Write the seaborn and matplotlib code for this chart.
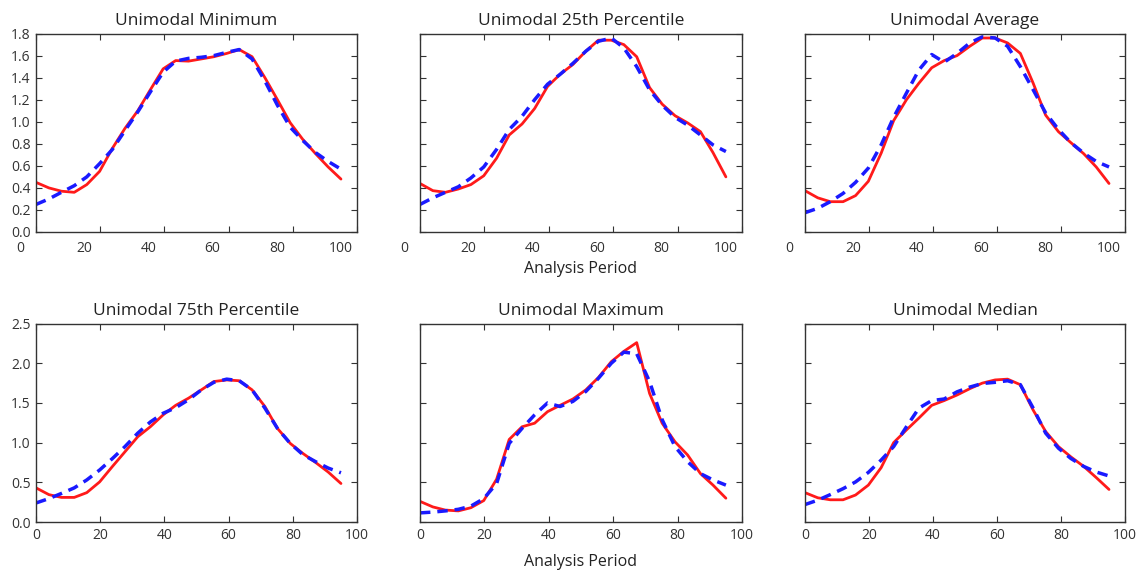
import numpy as np
import pandas as pd
import matplotlib
matplotlib.use('Agg')
import matplotlib.pyplot as plt
import matplotlib.transforms as mtransforms
import seaborn as sns

# ==========================================
# DATOS
# ==========================================
# posiciones del periodo de análisis (fila inferior); la fila superior va desplazada +5
X_INF = [0, 4.0, 7.9, 11.9, 15.8, 19.8, 23.8, 27.7, 31.7, 35.6, 39.6, 43.5, 47.5,
         51.5, 55.4, 59.4, 63.3, 67.3, 71.3, 75.2, 79.2, 83.1, 87.1, 91.0, 95.0]
X_SUP = [5, 9.0, 12.9, 16.9, 20.8, 24.8, 28.8, 32.7, 36.7, 40.6, 44.6, 48.5, 52.5,
         56.5, 60.4, 64.4, 68.3, 72.3, 76.3, 80.2, 84.2, 88.1, 92.1, 96.0, 100.0]

titulos = ['Unimodal Minimum', 'Unimodal 25th Percentile', 'Unimodal Average',
           'Unimodal 75th Percentile', 'Unimodal Maximum', 'Unimodal Median']

min_real = [0.45, 0.40, 0.37, 0.36, 0.43, 0.55, 0.76, 0.94, 1.10, 1.29, 1.48, 1.555, 1.55,
            1.57, 1.59, 1.62, 1.655, 1.59, 1.40, 1.20, 0.99, 0.84, 0.71, 0.59, 0.48]
min_ajuste = [0.25, 0.30, 0.36, 0.42, 0.50, 0.62, 0.75, 0.92, 1.09, 1.27, 1.45, 1.55, 1.575,
              1.585, 1.60, 1.63, 1.655, 1.57, 1.37, 1.15, 0.95, 0.83, 0.72, 0.64, 0.57]

p25_real = [0.44, 0.375, 0.36, 0.39, 0.43, 0.51, 0.67, 0.88, 0.98, 1.12, 1.32, 1.43, 1.52,
            1.64, 1.74, 1.74, 1.70, 1.59, 1.31, 1.16, 1.055, 0.99, 0.91, 0.72, 0.50]
p25_ajuste = [0.25, 0.31, 0.36, 0.41, 0.49, 0.59, 0.75, 0.93, 1.05, 1.20, 1.34, 1.43, 1.53,
              1.64, 1.73, 1.76, 1.67, 1.50, 1.29, 1.15, 1.04, 0.97, 0.88, 0.79, 0.73]

avg_real = [0.375, 0.31, 0.275, 0.275, 0.33, 0.46, 0.715, 1.01, 1.20, 1.35, 1.49, 1.555, 1.60,
            1.685, 1.76, 1.76, 1.715, 1.62, 1.35, 1.06, 0.91, 0.81, 0.71, 0.59, 0.44]
avg_ajuste = [0.175, 0.215, 0.275, 0.35, 0.45, 0.58, 0.79, 1.04, 1.26, 1.47, 1.61, 1.54, 1.62,
              1.715, 1.77, 1.76, 1.685, 1.50, 1.29, 1.08, 0.93, 0.81, 0.715, 0.64, 0.59]

p75_real = [0.43, 0.345, 0.31, 0.31, 0.37, 0.505, 0.70, 0.885, 1.075, 1.20, 1.35, 1.47, 1.56,
            1.665, 1.77, 1.79, 1.78, 1.665, 1.455, 1.18, 0.99, 0.865, 0.75, 0.63, 0.485]
p75_ajuste = [0.24, 0.295, 0.36, 0.43, 0.53, 0.655, 0.80, 0.95, 1.12, 1.26, 1.37, 1.44, 1.54,
              1.665, 1.76, 1.80, 1.78, 1.665, 1.435, 1.18, 0.99, 0.85, 0.76, 0.68, 0.62]

max_real = [0.26, 0.19, 0.15, 0.14, 0.18, 0.27, 0.54, 1.04, 1.20, 1.245, 1.39, 1.47, 1.55,
            1.665, 1.82, 2.02, 2.15, 2.26, 1.62, 1.245, 1.01, 0.845, 0.61, 0.465, 0.30]
max_ajuste = [0.115, 0.125, 0.14, 0.16, 0.20, 0.295, 0.485, 0.99, 1.18, 1.35, 1.50, 1.455, 1.52,
              1.645, 1.81, 2.00, 2.14, 2.12, 1.77, 1.29, 0.95, 0.76, 0.61, 0.53, 0.465]

med_real = [0.37, 0.305, 0.28, 0.28, 0.34, 0.465, 0.685, 1.00, 1.16, 1.31, 1.47, 1.53, 1.60,
            1.68, 1.75, 1.79, 1.80, 1.73, 1.41, 1.14, 0.95, 0.82, 0.70, 0.56, 0.41]
med_ajuste = [0.22, 0.275, 0.345, 0.42, 0.505, 0.625, 0.78, 0.95, 1.20, 1.435, 1.53, 1.55, 1.64,
              1.70, 1.745, 1.76, 1.78, 1.73, 1.435, 1.12, 0.93, 0.80, 0.70, 0.63, 0.58]

series = [(min_real, min_ajuste), (p25_real, p25_ajuste), (avg_real, avg_ajuste),
          (p75_real, p75_ajuste), (max_real, max_ajuste), (med_real, med_ajuste)]

# ==========================================
# ESTILO
# ==========================================
sns.set_style('ticks')
plt.rcParams['font.family'] = ['Open Sans', 'DejaVu Sans']
plt.rcParams['xtick.direction'] = 'in'
plt.rcParams['ytick.direction'] = 'in'
plt.rcParams['xtick.color'] = '#333333'
plt.rcParams['ytick.color'] = '#333333'

fig = plt.figure(figsize=(11.41, 5.71), dpi=100)

izq = [0.0316, 0.3681, 0.7055]
anchos = [0.2813, 0.2822, 0.2805]
abajo = [0.5937, 0.0858]
alto = 0.3475

for i, titulo in enumerate(titulos):
    fila, col = divmod(i, 3)
    ax = fig.add_axes([izq[col], abajo[fila], anchos[col], alto])
    xs = X_SUP if fila == 0 else X_INF
    real, ajuste = series[i]

    df = pd.DataFrame({'x': xs, 'real': real, 'ajuste': ajuste})
    sns.lineplot(data=df, x='x', y='real', ax=ax, color='#ff1a1a', lw=2.0)
    sns.lineplot(data=df, x='x', y='ajuste', ax=ax, color='#1a1aff', lw=2.5, linestyle='--')
    ax.lines[-1].set_dashes([3, 2])

    ax.set_title(titulo, fontsize=12.5, pad=6, color='#222222')
    ax.set_xlabel('')
    ax.set_ylabel('')

    for s in ax.spines.values():
        s.set_color('#333333')
        s.set_linewidth(1.0)
    ax.tick_params(top=True, right=True, length=4, width=0.8, labelsize=10, pad=4)

    if fila == 0:
        ax.set_ylim(0, 1.8)
        ax.set_yticks(np.arange(0, 1.81, 0.2))
        ax.set_xlim(5, 105)
        ax.set_xticks([5, 25, 45, 65, 85, 105])
        ax.set_xticklabels([])
        # etiquetas desplazadas como en el original
        trans = mtransforms.blended_transform_factory(ax.transData, ax.transAxes)
        for v in range(0, 101, 20):
            ax.text(v, -0.045, str(v), transform=trans, ha='center', va='top',
                    fontsize=10, color='#333333', clip_on=False)
    else:
        ax.set_ylim(0, 2.5)
        ax.set_yticks(np.arange(0, 2.51, 0.5))
        ax.set_xlim(0, 100)
        ax.set_xticks(range(0, 101, 20))

    if col != 0:
        ax.set_yticklabels([])
    else:
        ax.yaxis.set_major_formatter(matplotlib.ticker.FormatStrFormatter('%.1f'))

    if col == 1:
        ax.set_xlabel('Analysis Period', fontsize=11.5, labelpad=17 if fila == 0 else 8,
                      color='#222222')

fig.savefig('out.png', dpi=100)
